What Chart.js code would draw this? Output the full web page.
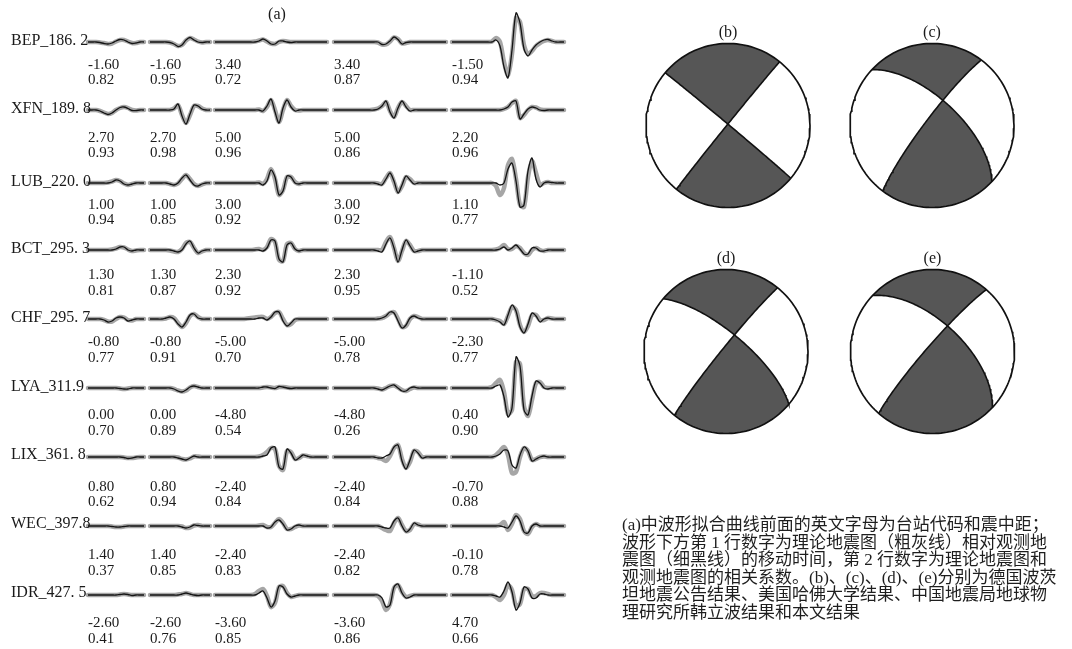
<!DOCTYPE html>
<html>
<head>
<meta charset="utf-8">
<script src="https://cdn.jsdelivr.net/npm/chart.js@4.4.1/dist/chart.umd.min.js"></script>
<style>
  html, body { margin: 0; padding: 0; background: #fff; }
  #wrap { position: relative; width: 1072px; height: 649px; overflow: hidden; }
  #plot { position: absolute; left: 0; top: 0; }
  #note {
    position: absolute; left: 622px; top: 516px;
    font-family: "Liberation Serif", "Noto Sans CJK SC", serif;
    font-size: 17px; line-height: 17.6px; color: #1e1e1e; white-space: pre;
  }
</style>
</head>
<body>
<div id="wrap">
  <canvas id="plot" width="1072" height="649"></canvas>
  <div id="note"></div>
</div>
<script>
// ---------------- station list and fit statistics ----------------
const stations = ["BEP_186. 2", "XFN_189. 8", "LUB_220. 0", "BCT_295. 3", "CHF_295. 7",
                  "LYA_311.9", "LIX_361. 8", "WEC_397.8", "IDR_427. 5"];

// time shift of synthetic relative to observed (s), one per component window
const timeShift = [
  [-1.60, -1.60, 3.40, 3.40, -1.50],
  [2.70, 2.70, 5.00, 5.00, 2.20],
  [1.00, 1.00, 3.00, 3.00, 1.10],
  [1.30, 1.30, 2.30, 2.30, -1.10],
  [-0.80, -0.80, -5.00, -5.00, -2.30],
  [0.00, 0.00, -4.80, -4.80, 0.40],
  [0.80, 0.80, -2.40, -2.40, -0.70],
  [1.40, 1.40, -2.40, -2.40, -0.10],
  [-2.60, -2.60, -3.60, -3.60, 4.70]
];
// correlation coefficient between synthetic and observed
const corrCoef = [
  [0.82, 0.95, 0.72, 0.87, 0.94],
  [0.93, 0.98, 0.96, 0.86, 0.96],
  [0.94, 0.85, 0.92, 0.92, 0.77],
  [0.81, 0.87, 0.92, 0.95, 0.52],
  [0.77, 0.91, 0.70, 0.78, 0.77],
  [0.70, 0.89, 0.54, 0.26, 0.90],
  [0.62, 0.94, 0.84, 0.84, 0.88],
  [0.37, 0.85, 0.83, 0.82, 0.78],
  [0.41, 0.76, 0.85, 0.86, 0.66]
];

// ---------------- waveform samples (5 windows per station) ----------------
const obsBEP = [
  [0,0,0,-0.5,-1.5,-2,-1,1,2.5,2,0,-1.5,-1,0,0],
  [0,0,0,0,0,-0.5,-2,-4.5,-3,2,4.5,2,0,-0.5,0,0],
  [0,0,0,0,0,0,0,0,0,0,0,1,3,1,-2,-2,1,1,0,-0.5,0,0,0,0,0,0,0,0,0],
  [0,0,0,0,0,0,0,0,0,0,0,0,-2.5,-2,1,5,2.5,-2,-0.5,0,0,0,0,0,0,0,0,0,0],
  [0,0,0,0,0,0,0,0,0,0,0,2,-4,-25,-36,-8,29,19,-7,-14,-8,-3,0,2,2.5,1,0,0,0]
];
const synBEP = [
  [0,0,0,-0.5,-1,-2,-1.5,0.5,2,2,0.5,-1,-1,0,0],
  [0,0,0,0,0,-0.5,-2,-4,-3,1.5,4,2.5,0.5,-0.5,0,0],
  [0,0,0,0,0,0,0,0,0,0,0.5,1.5,2.5,0.5,-1.5,-2,0,1,0.5,0,0,0,0,0,0,0,0,0,0],
  [0,0,0,0,0,0,0,0,0,0,0,-0.5,-2.5,-2.5,0.5,4.5,3,-1.5,-1,0,0,0,0,0,0,0,0,0,0],
  [0,0,0,0,0,0,0,0,0,0,0.5,4,0,-20,-33,-12,24,20,-3,-12,-9,-4,-1,1,2,1,0,0,0]
];
const obsXFN = [
  [0,0,0,-1,-3,-4.5,-3,0,2.5,3,1.5,-0.5,-0.5,0,0],
  [0,0,0,0,0,0,1,6,-6,-14,-4,5,4,1,0,0],
  [0,0,0,0,0,0,0,0,0,0,0,0,-1,4,11,-2,-13,2,10,3,-1,0,0,0,0,0,0,0,0],
  [0,0,0,0,0,0,0,0,0,0,0,1,4,9,-2,-8,2,9,3,-1,0,0,0,0,0,0,0,0,0],
  [0,0,0,0,0,0,0,0,0,0,0,0,0,1,3,8,9,-9,-4,1,3,2,0,-0.5,0,0,0,0,0]
];
const synXFN = [
  [0,0,0,-1,-2.5,-4,-3,0,2,3,2,0,-0.5,0,0],
  [0,0,0,0,0,0,1.5,5,-5,-13,-5,4,4,1.5,0,0],
  [0,0,0,0,0,0,0,0,0,0,0,0.5,-1,3,10,0,-12,0,10,4,0,-0.5,0,0,0,0,0,0,0],
  [0,0,0,0,0,0,0,0,0,0,0.5,1.5,4,8,-1,-7,2,8,4,0,0,0,0,0,0,0,0,0,0],
  [0,0,0,0,0,0,0,0,0,0,0,0,0,1,3,7,9,-8,-5,0,3,2.5,0.5,0,0,0,0,0,0]
];
const obsLUB = [
  [0,0,0,0,0,0,1,3,2,-1,-2,-1,0,0,0],
  [0,0,0,0,0,-1,-2,0,5,8,3,-2,-3,-1,0,0],
  [0,0,0,0,0,0,0,0,0,0,0,0,-2,2,13,6,-12,-8,7,6,0,-1,0,0,0,0,0,0,0],
  [0,0,0,0,0,0,0,0,0,0,0,-1,-2,4,10,2,-10,-2,7,3,-1,0,0,0,0,0,0,0,0],
  [0,0,0,0,0,0,0,0,0,0,0,0,-2,0,14,20,2,-24,-22,12,25,4,-4,0,1,0.5,0,0,0]
];
const synLUB = [
  [0,0,0,0,0,0.5,1.5,3,2,-0.5,-2,-1,0,0,0],
  [0,0,0,0,0,-1,-2,-0.5,4,8,4,-1,-3,-1.5,0,0],
  [0,0,0,0,0,0,0,0,0,0,0,0.5,-1,4,14,4,-12,-7,6,6,1,-1,0,0,0,0,0,0,0],
  [0,0,0,0,0,0,0,0,0,0,0,-0.5,-1,5,10,1,-9,-3,6,4,0,0,0,0,0,0,0,0,0],
  [0,0,0,0,0,0,0,0,0,0,0,-3,-12,-5,18,24,4,-22,-24,6,22,10,-2,0,1,0,0,0,0]
];
const obsBCT = [
  [0,0,0,0,0,0,0,1,3,3,0,-1,0,0,0],
  [0,0,0,0,0,0,-1,-2,0,6,9,2,-3,-1,0,0],
  [0,0,0,0,0,0,0,0,0,0,0,0,-1,2,10,9,-9,-12,5,7,1,-1,0,0,0,0,0,0,0],
  [0,0,0,0,0,0,0,0,0,0,0,-1,-2,6,12,2,-12,0,10,4,-2,-1,0,0,0,0,0,0,0],
  [0,0,0,0,0,0,0,0,0,0,0,0,1,3,0,2,5,1,-4,-4,2,2,-1,-1,0,0,0,0,0]
];
const synBCT = [
  [0,0,0,0,0,0,0.5,1.5,3,2.5,0.5,-1,-0.5,0,0],
  [0,0,0,0,0,-0.5,-1.5,-2,1,7,8,2,-3,-1.5,0,0],
  [0,0,0,0,0,0,0,0,0,0,0.5,1,0,3,11,8,-10,-11,6,7,1,-1,0,0,0,0,0,0,0],
  [0,0,0,0,0,0,0,0,0,0,0,0,0,8,13,2,-11,-1,9,5,-1,-1,0,0,0,0,0,0,0],
  [0,0,0,0,0,0,0,0,0,0,0,0.5,2,5,1,1,4,2,-3,-5,0,2,0,-1,0,0,0,0,0]
];
const obsCHF = [
  [0,0,0,0,-1,-3,-2,1,2,1,-2,-1,0,0,0],
  [0,0,0,0,1,2,0,-5,-8,-3,4,5,1,0,0,0],
  [0,0,0,0,0,0,0,0,0,0,0,1,1,-1,2,7,7,-2,-7,-4,0,0,0,0,0,0,0,0,0],
  [0,0,0,0,0,0,0,0,0,0,0,0,1,3,7,6,-2,-9,-6,1,3,1,0,0,0,0,0,0,0],
  [0,0,0,0,0,0,0,0,0,0,0,-1,-3,-6,4,14,8,-8,-14,-5,6,3,-3,0,1,0,0,0,0]
];
const synCHF = [
  [0,0,0,0,-1,-2.5,-2.5,0,2,1.5,-1,-1.5,0,0,0],
  [0,0,0,0,0.5,2,1,-4,-8,-4,3,5,2,0,0,0],
  [0,0,0,0,0,0,0,0,0.5,1,1.5,2,2,0,2,6,7,0,-6,-5,-1,0,0,0,0,0,0,0,0],
  [0,0,0,0,0,0,0,0,0,0,0,0.5,1,3,6,7,0,-8,-7,0,3,2,0,0,0,0,0,0,0],
  [0,0,0,0,0,0,0,0,0,0,0,-1,-2,-5,3,12,9,-6,-13,-7,4,4,-1,-1,1,0.5,0,0,0]
];
const obsLYA = [
  [0,0,0,0,0,0,0,0,-0.5,-1,-1,0,0,0,0],
  [0,0,0,0,0,0,-1,-3,-4,-2,1,2,1,0,0,0],
  [0,0,0,0,0,0,0,0,0,0,0,0,1,1,0,-0.5,1.5,1,0,-0.5,0,0,0,0,0,0,0,0,0],
  [0,0,0,0,0,0,0,0,0,0,0,-1,-2,0,2,3,0,-3,-3,0,1,0,0,0,0,0,0,0,0],
  [0,0,0,0,0,0,0,0,0,0,0,2,3,-9,-29,-20,31,22,-22,-27,-8,7,5,0,-1,0,0,0,0]
];
const synLYA = [
  [0,0,0,0,0,0,0,0,-0.5,-1,-0.5,0,0,0,0],
  [0,0,0,0,0,0,-1,-2.5,-3.5,-2.5,0.5,2,1,0,0,0],
  [0,0,0,0,0,0,0,0,0,0,0,0,0.5,1,0.5,0,1,1,0.5,0,0,0,0,0,0,0,0,0,0],
  [0,0,0,0,0,0,0,0,0,0,0,-0.5,-1.5,0,2,2.5,0.5,-2,-3,-1,0.5,0,0,0,0,0,0,0,0],
  [0,0,0,0,0,0,0,0,0,0,1,5,8,-4,-26,-22,26,24,-18,-28,-12,5,6,1,0,0,0,0,0]
];
const obsLIX = [
  [0,0,0,0,0,0,0,0,0,-0.5,-1.5,-1,0,0,0],
  [0,0,0,0,0,0,0,-1,-2,-3,-1,1,0,0,0,0],
  [0,0,0,0,0,0,0,0,0,0,0,0,1,2,9,10,-10,-12,8,4,-3,-1,2,1,0,0,0,0,0],
  [0,0,0,0,0,0,0,0,0,0,0,-1,-1,1,3,10,12,-4,-12,-3,7,4,-1,0,0,0,0,0,0],
  [0,0,0,0,0,0,0,0,0,0,0,1,3,7,6,-8,-11,2,10,6,-4,-2,0,1,0,0,0,0,0]
];
const synLIX = [
  [0,0,0,0,0,0,0,0,0,-0.5,-1,-1,-0.5,0,0],
  [0,0,0,0,0,0,0,-0.5,-2,-2.5,-1.5,0.5,0.5,0,0,0],
  [0,0,0,0,0,0,0,0,0,0,0,0.5,2,5,9,8,-9,-13,6,5,-2,-1,1.5,1,0,0,0,0,0],
  [0,0,0,0,0,0,0,0,0,0,0,-1,-2,-4,1,9,12,-2,-11,-5,6,5,0,0,0,0,0,0,0],
  [0,0,0,0,0,0,0,0,0,0,0,2,6,10,2,-16,-15,0,9,6,-3,-2,0,0.5,0,0,0,0,0]
];
const obsWEC = [
  [0,0,0,0,0,0,-0.5,-1,-1,-0.5,0,0,0,0,0],
  [0,0,0,0,0,0,0,0,-1,-2,-1,1,0.5,0,0,0],
  [0,0,0,0,0,0,0,0,0,0,0,0,0,-2,-1,4,6,2,-4,-3,0,1,0,0,0,0,0,0,0],
  [0,0,0,0,0,0,0,0,0,0,0,0,-1,-2,-2,5,8,0,-6,-3,3,1,0,0,0,0,0,0,0],
  [0,0,0,0,0,0,0,0,0,0,0,0,0,-1,-2,4,10,5,-6,-7,0,2,0,0,0,0,0,0,0]
];
const synWEC = [
  [0,0,0,0,0,0,-0.5,-1,-1,-0.5,0,0,0,0,0],
  [0,0,0,0,0,0,0,0,-0.5,-2,-1.5,0.5,1,0,0,0],
  [0,0,0,0,0,0,0,0,0,0,0,0.5,1,-1,-1,3,7,3,-3,-3,-1,0.5,0,0,0,0,0,0,0],
  [0,0,0,0,0,0,0,0,0,0,0,0,-2,-4,-5,3,8,1,-5,-4,2,1.5,0,0,0,0,0,0,0],
  [0,0,0,0,0,0,0,0,0,0,0,0,1,4,-4,2,11,7,-5,-8,-1,2,0,0,0,0,0,0,0]
];
const obsIDR = [
  [0,0,0,0,0,0,0,0,0.5,1,0.5,-0.5,0,0,0],
  [0,0,0,0,0,0,0,0,1,2,1,0,-0.5,0,0,0],
  [0,0,0,0,0,0,0,0,0,0,0,2,4,-3,-12,-6,9,8,1,-2,-1,0,0,0,0,0,0,0,0],
  [0,0,0,0,0,0,0,0,0,0,0,0,-3,-12,-10,8,11,2,-3,-2,0,0,0,0,0,0,0,0,0],
  [0,0,0,0,0,0,0,0,0,0,0,-1,-2,4,13,3,-15,-8,8,6,-3,-3,1,1,0,0,0,0,0]
];
const synIDR = [
  [0,0,0,0,0,0,0,0,0.5,1,0.5,0,0,0,0],
  [0,0,0,0,0,0,0,0.5,1,2,1,0,0,0,0,0],
  [0,0,0,0,0,0,0,0,0,0,1,4,6,-1,-12,-8,8,9,2,-2,-1,0,0,0,0,0,0,0,0],
  [0,0,0,0,0,0,0,0,0,0,0,-1,-6,-15,-9,7,10,3,-2,-1,0,0,0,0,0,0,0,0,0],
  [0,0,0,0,0,0,0,0,0,0,0,-2,-5,0,10,5,-11,-9,6,6,-1,-1,2,2,1,0,0,0,0]
];
const observed  = [obsBEP, obsXFN, obsLUB, obsBCT, obsCHF, obsLYA, obsLIX, obsWEC, obsIDR];
const synthetic = [synBEP, synXFN, synLUB, synBCT, synCHF, synLYA, synLIX, synWEC, synIDR];

// ---------------- focal mechanisms: [strike, dip] of both nodal planes ----------------
const mechB = [[310, 89], [219, 89]];
const mechC = [[313, 64], [217, 83]];
const mechD = [[310, 72], [219, 86]];
const mechE = [[313, 61], [221, 84]];
const mechanisms = [mechB, mechC, mechD, mechE];
const mechTitles = ["(b)", "(c)", "(d)", "(e)"];

const noteLines = [
  "(a)中波形拟合曲线前面的英文字母为台站代码和震中距；",
  "波形下方第 1 行数字为理论地震图（粗灰线）相对观测地",
  "震图（细黑线）的移动时间，第 2 行数字为理论地震图和",
  "观测地震图的相关系数。(b)、(c)、(d)、(e)分别为德国波茨",
  "坦地震公告结果、美国哈佛大学结果、中国地震局地球物",
  "理研究所韩立波结果和本文结果"
];

// ---------------- layout (canvas units) ----------------
const winStart = [88, 150, 215, 334, 452];     // left edge of each window
const sampleStep = 4;                           // spacing between samples
const traceBase = [42, 110, 183, 250, 319, 388, 457, 526, 595];
const labelY    = [41, 109, 182, 249, 318, 387, 455, 524, 593];
const shiftY    = [65, 138, 205, 275, 342, 415, 487, 555, 623];
const corrY     = [80, 153, 220, 291, 358, 431, 502, 571, 639];
const ballCenter = [[728, 125.5], [932, 125.5], [726, 351.5], [932.5, 351.5]];
const ballR = 82;

document.getElementById('note').textContent = noteLines.join('\n');

// ---------------- datasets ----------------
const datasets = [];
stations.forEach((_, i) => {
  for (let c = 0; c < 5; c++) {
    const toPts = arr => arr.map((a, k) => ({ x: winStart[c] + k * sampleStep, y: traceBase[i] - a }));
    datasets.push({
      data: toPts(synthetic[i][c]), showLine: true, pointRadius: 0,
      borderColor: 'rgba(150,150,150,0.85)', borderWidth: 4.5,
      borderCapStyle: 'round', borderJoinStyle: 'round', tension: 0.3, order: 2
    });
    datasets.push({
      data: toPts(observed[i][c]), showLine: true, pointRadius: 0,
      borderColor: '#141414', borderWidth: 1.3,
      borderJoinStyle: 'round', tension: 0.3, order: 1
    });
  }
});

// lower-hemisphere equal-area projection of nodal planes
const D2R = Math.PI / 180;
const dot = (a, b) => a[0] * b[0] + a[1] * b[1] + a[2] * b[2];
const cross = (a, b) => [a[1] * b[2] - a[2] * b[1], a[2] * b[0] - a[0] * b[2], a[0] * b[1] - a[1] * b[0]];
function planeBasis(strike, dip) {
  const f = strike * D2R, d = dip * D2R;
  const s = [Math.sin(f), Math.cos(f), 0];                                   // east, north, down
  const v = [Math.cos(d) * Math.sin(f + Math.PI / 2), Math.cos(d) * Math.cos(f + Math.PI / 2), Math.sin(d)];
  return { s, v, strike };
}
function pointOn(p, t) { return [0, 1, 2].map(k => Math.cos(t) * p.s[k] + Math.sin(t) * p.v[k]); }
function project(vec) {
  const n = Math.hypot(vec[0], vec[1], vec[2]);
  const plunge = Math.asin(Math.max(-1, Math.min(1, vec[2] / n)));
  const trend = Math.atan2(vec[0], vec[1]);
  const r = Math.SQRT2 * Math.sin((Math.PI / 2 - plunge) / 2);
  return [r * Math.sin(trend), r * Math.cos(trend)];
}
function traceT(p, t0, t1, n) {
  const out = [];
  for (let k = 0; k <= n; k++) out.push(project(pointOn(p, t0 + (t1 - t0) * k / n)));
  return out;
}
function rimArc(a0, a1, n) {
  let d = ((a1 - a0) % 360 + 360) % 360; if (d > 180) d -= 360;
  const out = [];
  for (let k = 0; k <= n; k++) { const a = (a0 + d * k / n) * D2R; out.push([Math.sin(a), Math.cos(a)]); }
  return { pts: out, mid: a0 + d / 2, half: Math.abs(d) / 2 };
}
const angGap = (a, b) => { const g = Math.abs(((a - b) % 360 + 540) % 360 - 180); return g; };

mechanisms.forEach((mech, m) => {
  const [cx, cy] = ballCenter[m];
  const toPts = arr => arr.map(([px, py]) => ({ x: cx + px * ballR, y: cy - py * ballR }));
  const p1 = planeBasis(mech[0][0], mech[0][1]);
  const p2 = planeBasis(mech[1][0], mech[1][1]);
  const B = cross(cross(p1.s, p1.v), cross(p2.s, p2.v));
  const tB = p => { let t = Math.atan2(dot(B, p.v), dot(B, p.s)); if (t < 0) t += Math.PI; return t; };
  const tb1 = tB(p1), tb2 = tB(p2);

  // shaded quadrants are the ones whose rim arc holds north or south
  for (let h1 = 0; h1 < 2; h1++) {
    for (let h2 = 0; h2 < 2; h2++) {
      const arc = rimArc(p1.strike + 180 * h1, p2.strike + 180 * h2, 40);
      const shaded = angGap(arc.mid, 0) < arc.half || angGap(arc.mid, 180) < arc.half;
      if (!shaded) continue;
      const side1 = traceT(p1, tb1, h1 ? Math.PI : 0, 40);
      const side2 = traceT(p2, h2 ? Math.PI : 0, tb2, 40);
      datasets.push({
        data: toPts(side1.concat(arc.pts, side2)), showLine: false, pointRadius: 0,
        polygon: '#565656', order: 5
      });
    }
  }
  [p1, p2].forEach(p => datasets.push({
    data: toPts(traceT(p, 0, Math.PI, 90)), showLine: true, pointRadius: 0,
    borderColor: '#111', borderWidth: 1.6, tension: 0, order: 0
  }));
  datasets.push({
    data: toPts(rimArc(0, 180, 90).pts.concat(rimArc(180, 360, 90).pts)), showLine: true, pointRadius: 0,
    borderColor: '#111', borderWidth: 1.7, tension: 0, order: 0
  });
});

// ---------------- plugins ----------------
const polygonFill = {
  id: 'polygonFill',
  beforeDatasetsDraw(chart) {
    const ctx = chart.ctx;
    chart.data.datasets.forEach((ds, i) => {
      if (!ds.polygon) return;
      const pts = chart.getDatasetMeta(i).data;
      ctx.save();
      ctx.beginPath();
      pts.forEach((p, k) => k ? ctx.lineTo(p.x, p.y) : ctx.moveTo(p.x, p.y));
      ctx.closePath();
      ctx.fillStyle = ds.polygon;
      ctx.fill();
      ctx.restore();
    });
  }
};

const textLayer = {
  id: 'textLayer',
  afterDatasetsDraw(chart) {
    const ctx = chart.ctx, xs = chart.scales.x, ys = chart.scales.y;
    ctx.save();
    ctx.fillStyle = '#1a1a1a';
    ctx.textBaseline = 'middle';
    ctx.textAlign = 'left';
    ctx.font = '16px "Liberation Serif", serif';
    stations.forEach((s, i) => ctx.fillText(s, xs.getPixelForValue(11), ys.getPixelForValue(labelY[i])));
    ctx.font = '15px "Liberation Serif", serif';
    stations.forEach((_, i) => {
      for (let c = 0; c < 5; c++) {
        const x = xs.getPixelForValue(winStart[c]);
        ctx.fillText(timeShift[i][c].toFixed(2), x, ys.getPixelForValue(shiftY[i]));
        ctx.fillText(corrCoef[i][c].toFixed(2), x, ys.getPixelForValue(corrY[i]));
      }
    });
    ctx.textAlign = 'center';
    ctx.font = '16px "Liberation Serif", serif';
    ctx.fillText('(a)', xs.getPixelForValue(277), ys.getPixelForValue(15));
    mechTitles.forEach((t, m) => {
      const [cx, cy] = ballCenter[m];
      ctx.fillText(t, xs.getPixelForValue(cx), ys.getPixelForValue(cy - ballR - 11));
    });
    ctx.restore();
  }
};

new Chart(document.getElementById('plot'), {
  type: 'scatter',
  data: { datasets },
  options: {
    responsive: false, animation: false, devicePixelRatio: 1,
    layout: { padding: 0 },
    plugins: { legend: { display: false }, tooltip: { enabled: false } },
    events: [],
    scales: {
      x: { type: 'linear', min: 0, max: 1072, display: false },
      y: { type: 'linear', min: 0, max: 649, reverse: true, display: false }
    }
  },
  plugins: [polygonFill, textLayer]
});
</script>
</body>
</html>
